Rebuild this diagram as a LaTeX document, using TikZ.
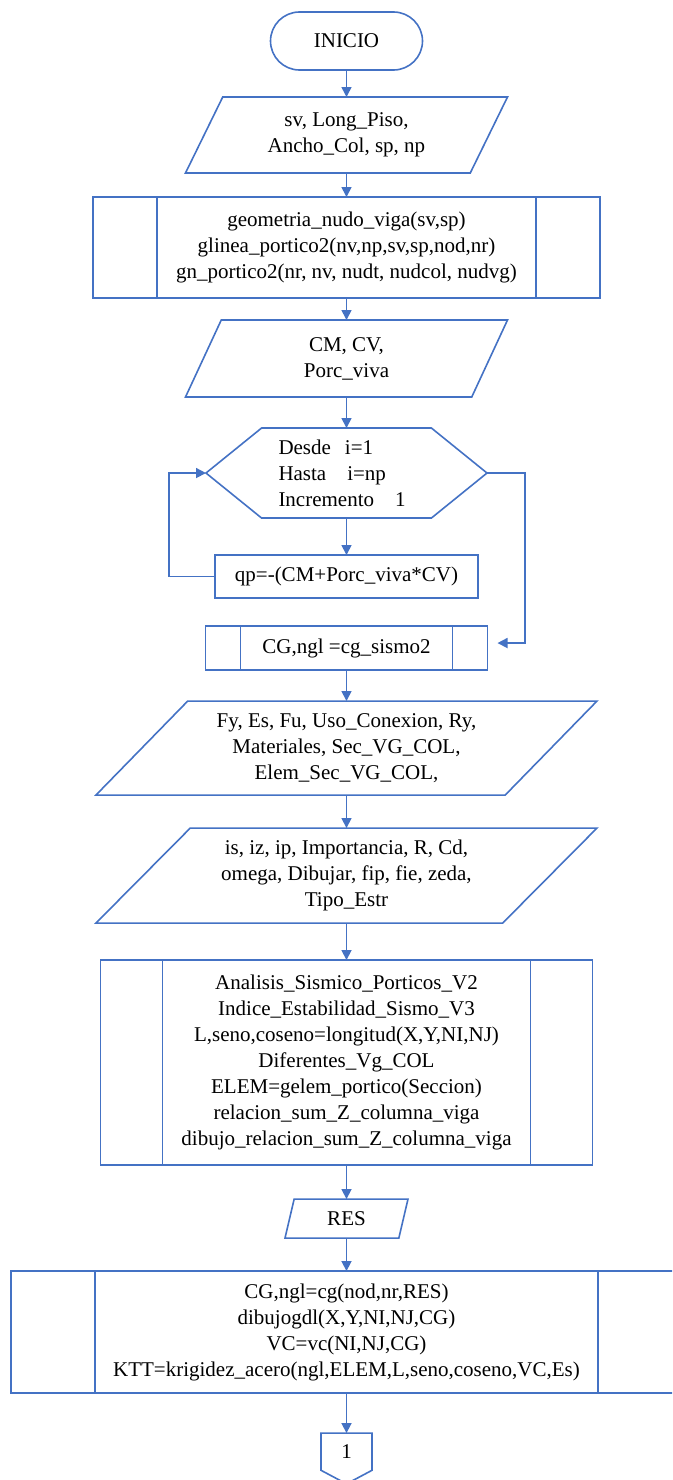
\documentclass[tikz,border=0pt]{standalone}
\usepackage{fontspec}
\setmainfont{Liberation Serif}
\usetikzlibrary{arrows.meta, positioning, shapes.geometric, shapes.misc, shapes.symbols}
\definecolor{flowblue}{RGB}{68,114,196}

\begin{document}
\begin{tikzpicture}[x=1pt, y=1pt, every node/.style={font=\fontsize{21}{26}\selectfont, draw=flowblue, line width=1.6pt, align=center, inner sep=0pt, outer sep=0pt}, line/.style={draw=flowblue, line width=1.6pt}, arr/.style={line, -{Triangle[length=10pt, width=10pt]}}, term/.style={rounded rectangle, minimum width=152pt, minimum height=58pt}, io/.style={trapezium, trapezium stretches body=true, trapezium left angle=50, trapezium right angle=130}, sub/.style={rectangle}, proc/.style={rectangle}, hexa/.style={signal, signal to=west and east, signal pointer angle=78, minimum width=281pt, minimum height=90pt, text width=136pt, align=left}, conn/.style={signal, signal to=south, signal from=nowhere, signal pointer angle=124, minimum width=51pt, minimum height=40pt}]
  \useasboundingbox (0,0) rectangle (672,-1480);
  \clip (0,0) rectangle (672,-1480);
  \node[term] (inicio) at (346.5,-41) {INICIO};
  \node[io, below=27pt of inicio, minimum width=322pt, minimum height=76pt] (datos1) {sv, Long\_Piso,\\Ancho\_Col, sp, np};
  \node[sub, below=24pt of datos1, minimum width=507pt, minimum height=101pt] (geom) {geometria\_nudo\_viga(sv,sp)\\glinea\_portico2(nv,np,sv,sp,nod,nr)\\gn\_portico2(nr, nv, nudt, nudcol, nudvg)};
  \node[io, below=22pt of geom, minimum width=322pt, minimum height=77pt] (cargas) {CM, CV,\\Porc\_viva};
  \node[hexa, below=31pt of cargas] (ciclo) {Desde\ \ i=1\\Hasta\ \ \ i=np\\Incremento\ \ \ 1};
  \node[proc, below=37pt of ciclo, minimum width=263pt, minimum height=43pt] (qp) {qp=-(CM+Porc\_viva*CV)};
  \node[sub, below=28pt of qp, minimum width=282pt, minimum height=44pt] (cgsis) {CG,ngl =cg\_sismo2};
  \node[io, trapezium left angle=37, trapezium right angle=143, below=31pt of cgsis, minimum width=501pt, minimum height=94pt] (datos3) {Fy, Es, Fu, Uso\_Conexion, Ry,\\Materiales, Sec\_VG\_COL,\\Elem\_Sec\_VG\_COL,};
  \node[io, trapezium left angle=37, trapezium right angle=143, below=33pt of datos3, minimum width=501pt, minimum height=95pt] (datos4) {is, iz, ip, Importancia, R, Cd,\\omega, Dibujar, fip, fie, zeda,\\Tipo\_Estr};
  \node[sub, below=37pt of datos4, minimum width=492pt, minimum height=205pt] (analisis) {Analisis\_Sismico\_Porticos\_V2\\Indice\_Estabilidad\_Sismo\_V3\\L,seno,coseno=longitud(X,Y,NI,NJ)\\Diferentes\_Vg\_COL\\ELEM=gelem\_portico(Seccion)\\relacion\_sum\_Z\_columna\_viga\\dibujo\_relacion\_sum\_Z\_columna\_viga};
  \node[io, trapezium left angle=57, trapezium right angle=123, below=34pt of analisis, minimum width=123pt, minimum height=39pt] (res) {RES};
  \node[sub, below=33pt of res, minimum width=671pt, minimum height=122pt] (rigidez) {CG,ngl=cg(nod,nr,RES)\\dibujogdl(X,Y,NI,NJ,CG)\\VC=vc(NI,NJ,CG)\\KTT=krigidez\_acero(ngl,ELEM,L,seno,coseno,VC,Es)};
  \node[conn, below=40pt of rigidez] (sigue) {1};
  \foreach \n/\d in {geom/64, cgsis/35, analisis/62, rigidez/84}{
    \draw[line] ([xshift=\d pt]\n.north west) -- ([xshift=\d pt]\n.south west);
    \draw[line] ([xshift=-\d pt]\n.north east) -- ([xshift=-\d pt]\n.south east);
  }
  \draw[arr] (inicio.south) -- (datos1.north);
  \draw[arr] (datos1.south) -- (geom.north);
  \draw[arr] (geom.south) -- (cargas.north);
  \draw[arr] (cargas.south) -- (ciclo.north);
  \draw[arr] (ciclo.south) -- (qp.north);
  \draw[arr] (qp.west) -| ([xshift=-37pt]ciclo.west) -- (ciclo.west);
  \draw[arr] (ciclo.east) -- ++(38,0) |- ([xshift=10pt, yshift=5pt]cgsis.east);
  \draw[arr] (cgsis.south) -- (datos3.north);
  \draw[arr] (datos3.south) -- (datos4.north);
  \draw[arr] (datos4.south) -- (analisis.north);
  \draw[arr] (analisis.south) -- (res.north);
  \draw[arr] (res.south) -- (rigidez.north);
  \draw[arr] (rigidez.south) -- (sigue.north);
\end{tikzpicture}
\end{document}
